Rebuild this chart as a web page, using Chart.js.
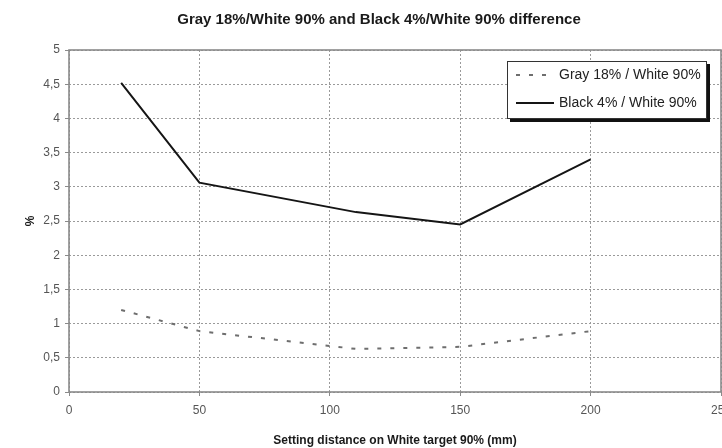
<!DOCTYPE html>
<html>
<head>
<meta charset="utf-8">
<script src="https://cdn.jsdelivr.net/npm/chart.js@4/dist/chart.umd.min.js"></script>
<style>
  html, body { margin: 0; padding: 0; background: #fff; }
  #wrap { width: 722px; height: 448px; }
</style>
</head>
<body>
<div id="wrap"><canvas id="c" width="722" height="448"></canvas></div>
<script>
// ---- data ----
const chartTitle = 'Gray 18%/White 90% and Black 4%/White 90% difference';
const xTitle = 'Setting distance on White target 90% (mm)';
const yTitle = '%';
const distances = [20, 50, 110, 150, 200];
const grayLabel = 'Gray 18% / White 90%';
const grayValues = [1.20, 0.89, 0.63, 0.66, 0.89];
const blackLabel = 'Black 4% / White 90%';
const blackValues = [4.52, 3.06, 2.63, 2.45, 3.40];
const xTicks = [0, 50, 100, 150, 200, 250];
const yTicks = [0, 0.5, 1, 1.5, 2, 2.5, 3, 3.5, 4, 4.5, 5];

const FONT = "'Liberation Sans', Arial, sans-serif";

const toPoints = (xs, ys) => xs.map((x, i) => ({ x: x, y: ys[i] }));

const frameAndTitle = {
  id: 'frameAndTitle',
  beforeDatasetsDraw(chart) {
    const { ctx, chartArea: a } = chart;
    ctx.save();
    ctx.strokeStyle = '#8a8a8a';
    ctx.lineWidth = 1.6;
    ctx.setLineDash([]);
    ctx.strokeRect(a.left, a.top, a.right - a.left, a.bottom - a.top);
    ctx.restore();
  },
  afterDraw(chart) {
    const { ctx } = chart;
    ctx.save();
    ctx.fillStyle = '#1a1a1a';
    ctx.font = 'bold 15px ' + FONT;
    ctx.textAlign = 'center';
    ctx.textBaseline = 'middle';
    ctx.fillText(chartTitle, 379, 20);
    ctx.restore();

    // legend box
    const bx = 507, by = 61, bw = 200, bh = 58;
    ctx.save();
    ctx.fillStyle = '#111';
    ctx.fillRect(bx + 3, by + 3, bw, bh);
    ctx.fillStyle = '#fff';
    ctx.fillRect(bx, by, bw, bh);
    ctx.strokeStyle = '#333';
    ctx.lineWidth = 1;
    ctx.strokeRect(bx + 0.5, by + 0.5, bw - 1, bh - 1);
    const rows = [75, 103];
    chart.data.datasets.forEach((ds, i) => {
      const y = rows[i];
      ctx.beginPath();
      ctx.strokeStyle = ds.borderColor;
      ctx.lineWidth = ds.borderWidth;
      ctx.setLineDash(ds.borderDash || []);
      ctx.moveTo(516, y);
      ctx.lineTo(554, y);
      ctx.stroke();
      ctx.setLineDash([]);
      ctx.fillStyle = '#222';
      ctx.font = '14px ' + FONT;
      ctx.textAlign = 'left';
      ctx.textBaseline = 'middle';
      ctx.fillText(ds.label, 559, y);
    });
    ctx.restore();
  }
};

new Chart(document.getElementById('c'), {
  type: 'line',
  data: {
    datasets: [
      {
        label: grayLabel,
        data: toPoints(distances, grayValues),
        borderColor: '#6e6e6e',
        borderWidth: 2,
        borderDash: [4, 9],
        pointRadius: 0,
        fill: false,
        tension: 0
      },
      {
        label: blackLabel,
        data: toPoints(distances, blackValues),
        borderColor: '#151515',
        borderWidth: 2,
        pointRadius: 0,
        fill: false,
        tension: 0
      }
    ]
  },
  options: {
    responsive: false,
    animation: false,
    devicePixelRatio: 1,
    layout: { padding: { left: 0, top: 50, right: 1, bottom: 0 } },
    plugins: {
      legend: { display: false },
      title: { display: false },
      tooltip: { enabled: false }
    },
    scales: {
      x: {
        type: 'linear',
        min: 0, max: 250,
        afterBuildTicks(scale) { scale.ticks = xTicks.map(v => ({ value: v })); },
        afterFit(scale) { scale.height = 56; scale.paddingLeft = 0; scale.paddingRight = 0; },
        ticks: {
          color: '#555',
          font: { family: FONT, size: 12 },
          padding: 7,
          maxRotation: 0,
          autoSkip: false
        },
        grid: {
          color: '#9a9a9a',
          lineWidth: 1,
          tickLength: 4,
          tickBorderDash: [],
          tickColor: '#8a8a8a',
          drawTicks: true
        },
        border: { display: false, dash: [2, 2] },
        title: {
          display: true,
          text: xTitle,
          color: '#1a1a1a',
          font: { family: FONT, size: 12, weight: 'bold' },
          padding: { top: 0, bottom: 0 }
        }
      },
      y: {
        type: 'linear',
        min: 0, max: 5,
        afterBuildTicks(scale) { scale.ticks = yTicks.map(v => ({ value: v })); },
        afterFit(scale) { scale.width = 69; },
        ticks: {
          color: '#555',
          font: { family: FONT, size: 12 },
          padding: 5,
          callback: v => String(v).replace('.', ',')
        },
        grid: {
          color: '#9a9a9a',
          lineWidth: 1,
          tickLength: 4,
          tickBorderDash: [],
          tickColor: '#8a8a8a'
        },
        border: { display: false, dash: [2, 2] },
        title: {
          display: true,
          text: yTitle,
          color: '#1a1a1a',
          font: { family: FONT, size: 12, weight: 'bold' },
          padding: { top: 23, bottom: 0 }
        }
      }
    }
  },
  plugins: [frameAndTitle]
});
</script>
</body>
</html>
